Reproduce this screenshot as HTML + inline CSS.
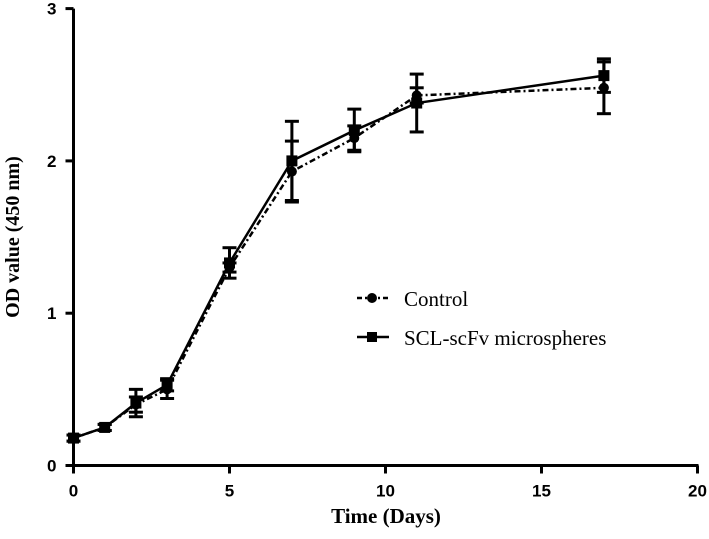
<!DOCTYPE html>
<html><head><meta charset="utf-8"><style>
body{margin:0;background:#fff}
svg text{font-family:"Liberation Sans",Arial,sans-serif;font-weight:bold;fill:#000}
svg text.serif{font-family:"Liberation Serif","Times New Roman",serif}
</style></head><body>
<svg width="709" height="534" xmlns="http://www.w3.org/2000/svg">
<g id="axes"></g><g id="plot"></g>
<text class="serif" x="386" y="523" font-size="21" text-anchor="middle">Time (Days)</text>
<text class="serif" transform="translate(19,237) rotate(-90)" font-size="20" text-anchor="middle">OD value (450 nm)</text>
<g>
<g>
<line x1="357" y1="298" x2="389" y2="298" stroke="#000" stroke-width="2.5" stroke-dasharray="5,3,2,3"/>
<circle cx="372" cy="298" r="5"/>
<text x="404" y="306" font-size="21" style="font-family:'Liberation Serif',serif;font-weight:normal">Control</text></g>
<g>
<line x1="357" y1="337" x2="389" y2="337" stroke="#000" stroke-width="2.5"/>
<rect x="367" y="332" width="10" height="10"/>
<text x="404" y="345" font-size="21" style="font-family:'Liberation Serif',serif;font-weight:normal">SCL-scFv microspheres</text></g>
</g>
</svg>
<script>
const days=[0,1,2,3,5,7,9,11,17];
const controlVals=[0.18,0.25,0.40,0.50,1.30,1.93,2.15,2.43,2.48];
const controlErr=[0.02,0.02,0.05,0.06,0.03,0.20,0.08,0.05,0.17];
const sclVals=[0.18,0.25,0.41,0.53,1.33,2.00,2.20,2.38,2.56];
const sclErr=[0.02,0.02,0.09,0.04,0.10,0.26,0.14,0.19,0.11];
const xTicks=[0,5,10,15,20];
const yTicks=[0,1,2,3];
const NS="http://www.w3.org/2000/svg";
const X=v=>73.5+v*31.2, Y=v=>465.5-v*152.3;
function mk(t,a,p){const e=document.createElementNS(NS,t);for(const k in a)e.setAttribute(k,a[k]);p.appendChild(e);return e;}
const ax=document.getElementById('axes'),pl=document.getElementById('plot');
const xa=mk('line',{x1:X(0),y1:Y(0),x2:X(20)+1,y2:Y(0),stroke:'#000','stroke-width':3},ax);


const ya=mk('line',{x1:X(0),y1:Y(0)+1,x2:X(0),y2:Y(3),stroke:'#000','stroke-width':3},ax);


xTicks.forEach(t=>{mk('line',{x1:X(t),y1:Y(0),x2:X(t),y2:Y(0)+8,stroke:'#000','stroke-width':3},ax);
const tx=mk('text',{x:X(t),y:Y(0)+31,'font-size':17,'text-anchor':'middle'},ax);tx.textContent=t;

});
yTicks.forEach(t=>{mk('line',{x1:X(0)-8,y1:Y(t),x2:X(0),y2:Y(t),stroke:'#000','stroke-width':3},ax);
const tx=mk('text',{x:X(0)-17,y:Y(t)+6,'font-size':17,'text-anchor':'end'},ax);tx.textContent=t;

});
function series(vals,err,dash,shape,name){
const g=mk('g',{},pl);


const a={points:days.map((d,i)=>X(d)+','+Y(vals[i])).join(' '),fill:'none',stroke:'#000','stroke-width':2.5};
if(dash)a['stroke-dasharray']=dash;mk('polyline',a,g);
days.forEach((d,i)=>{const x=X(d),lo=Y(vals[i]-err[i]),hi=Y(vals[i]+err[i]);
mk('line',{x1:x,y1:lo,x2:x,y2:hi,stroke:'#000','stroke-width':3},g);
mk('line',{x1:x-7,y1:lo,x2:x+7,y2:lo,stroke:'#000','stroke-width':3},g);
mk('line',{x1:x-7,y1:hi,x2:x+7,y2:hi,stroke:'#000','stroke-width':3},g);
let m;if(shape==='c')m=mk('circle',{cx:x,cy:Y(vals[i]),r:5},g);
else m=mk('rect',{x:x-5.5,y:Y(vals[i])-5.5,width:11,height:11},g);

});}
series(controlVals,controlErr,'6,3,2,3','c','control-series');
series(sclVals,sclErr,null,'s','scl-scfv-series');
</script>
</body></html>
